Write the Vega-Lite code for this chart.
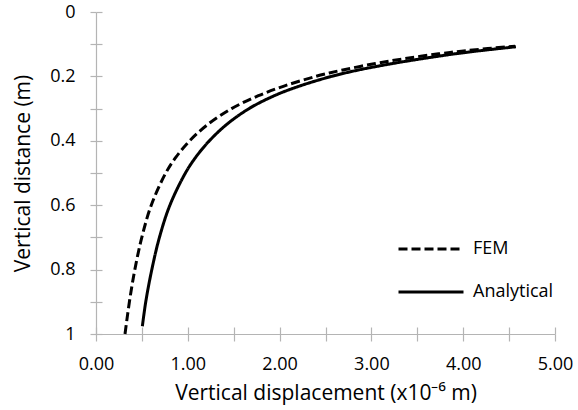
{
  "$schema": "https://vega.github.io/schema/vega-lite/v6.json",
  "width": 459,
  "height": 322,
  "autosize": "none",
  "padding": {"left": 96, "top": 12, "right": 23, "bottom": 76},
  "background": "white",
  "config": {
    "view": {"stroke": null},
    "font": "Open Sans",
    "axis": {
      "domainColor": "#b4b4b4",
      "tickColor": "#b4b4b4",
      "domainWidth": 1.2,
      "tickWidth": 1.2,
      "grid": false,
      "labelFlush": false,
      "labelOverlap": false,
      "labelColor": "#000000",
      "titleColor": "#000000",
      "labelFontSize": 18,
      "titleFontSize": 21,
      "titleFontWeight": "normal",
      "labelFont": "Open Sans",
      "titleFont": "Open Sans"
    }
  },
  "data": {
    "values": [
      {"series": "FEM", "x": 0.316, "y": 1.0},
      {"series": "FEM", "x": 0.364, "y": 0.9},
      {"series": "FEM", "x": 0.423, "y": 0.8},
      {"series": "FEM", "x": 0.499, "y": 0.7},
      {"series": "FEM", "x": 0.602, "y": 0.6},
      {"series": "FEM", "x": 0.76, "y": 0.5},
      {"series": "FEM", "x": 0.873, "y": 0.45},
      {"series": "FEM", "x": 1.02, "y": 0.4},
      {"series": "FEM", "x": 1.214, "y": 0.35},
      {"series": "FEM", "x": 1.477, "y": 0.3},
      {"series": "FEM", "x": 1.769, "y": 0.26},
      {"series": "FEM", "x": 2.048, "y": 0.23},
      {"series": "FEM", "x": 2.395, "y": 0.2},
      {"series": "FEM", "x": 2.689, "y": 0.18},
      {"series": "FEM", "x": 3.044, "y": 0.16},
      {"series": "FEM", "x": 3.359, "y": 0.145},
      {"series": "FEM", "x": 3.731, "y": 0.13},
      {"series": "FEM", "x": 4.033, "y": 0.12},
      {"series": "FEM", "x": 4.566, "y": 0.106},
      {"series": "Analytical", "x": 0.505, "y": 0.976},
      {"series": "Analytical", "x": 0.542, "y": 0.9},
      {"series": "Analytical", "x": 0.608, "y": 0.8},
      {"series": "Analytical", "x": 0.691, "y": 0.7},
      {"series": "Analytical", "x": 0.805, "y": 0.6},
      {"series": "Analytical", "x": 0.974, "y": 0.5},
      {"series": "Analytical", "x": 1.089, "y": 0.45},
      {"series": "Analytical", "x": 1.235, "y": 0.4},
      {"series": "Analytical", "x": 1.42, "y": 0.35},
      {"series": "Analytical", "x": 1.667, "y": 0.3},
      {"series": "Analytical", "x": 1.942, "y": 0.26},
      {"series": "Analytical", "x": 2.217, "y": 0.23},
      {"series": "Analytical", "x": 2.565, "y": 0.2},
      {"series": "Analytical", "x": 2.861, "y": 0.18},
      {"series": "Analytical", "x": 3.231, "y": 0.16},
      {"series": "Analytical", "x": 3.552, "y": 0.145},
      {"series": "Analytical", "x": 3.908, "y": 0.13},
      {"series": "Analytical", "x": 4.19, "y": 0.12},
      {"series": "Analytical", "x": 4.574, "y": 0.108}
    ]
  },
  "layer": [
    {
      "mark": {"type": "line", "strokeWidth": 3, "color": "#000000", "interpolate": "catmull-rom", "strokeCap": "butt"},
      "encoding": {
        "x": {
          "field": "x", "type": "quantitative",
          "scale": {"domain": [0, 5], "nice": false, "zero": false},
          "axis": {
            "orient": "bottom",
            "values": [0, 0.5, 1, 1.5, 2, 2.5, 3, 3.5, 4, 4.5, 5],
            "labelExpr": "round(datum.value * 2) % 2 === 0 ? format(datum.value, '.2f') : ''",
            "tickSize": 7,
            "labelPadding": 14,
            "title": "Vertical displacement (x10⁻⁶ m)",
            "titlePadding": 9
          }
        },
        "y": {
          "field": "y", "type": "quantitative",
          "scale": {"domain": [0, 1], "reverse": true, "nice": false, "zero": false},
          "axis": {
            "orient": "left",
            "values": [0, 0.1, 0.2, 0.3, 0.4, 0.5, 0.6, 0.7, 0.8, 0.9, 1],
            "labelExpr": "round(datum.value * 10) % 2 === 0 ? format(datum.value, '~g') : ''",
            "tickSize": 6,
            "labelPadding": 15,
            "title": "Vertical distance (m)",
            "titlePadding": 16
          }
        },
        "strokeDash": {
          "field": "series", "type": "nominal",
          "scale": {"domain": ["FEM", "Analytical"], "range": [[9, 4], [1, 0]]},
          "legend": {
            "orient": "none",
            "legendX": 301,
            "legendY": 203,
            "title": null,
            "padding": 0,
            "symbolType": "stroke",
            "symbolSize": 4225,
            "symbolStrokeWidth": 3,
            "symbolStrokeColor": "#000000",
            "labelFontSize": 18,
            "labelFont": "Open Sans",
            "labelColor": "#000000",
            "labelOffset": 8,
            "rowPadding": -14
          }
        }
      }
    },
    {
      "mark": {"type": "point", "opacity": 0},
      "encoding": {
        "x": {
          "field": "x", "type": "quantitative",
          "axis": {
            "orient": "bottom",
            "values": [0, 0.5, 1, 1.5, 2, 2.5, 3, 3.5, 4, 4.5, 5],
            "labels": false, "domain": false, "title": null,
            "tickSize": 7, "offset": -7
          }
        },
        "y": {
          "field": "y", "type": "quantitative",
          "axis": {
            "orient": "left",
            "values": [0, 0.1, 0.2, 0.3, 0.4, 0.5, 0.6, 0.7, 0.8, 0.9, 1],
            "labels": false, "domain": false, "title": null,
            "tickSize": 6, "offset": -6
          }
        }
      }
    }
  ],
  "resolve": {"axis": {"x": "independent", "y": "independent"}}
}
